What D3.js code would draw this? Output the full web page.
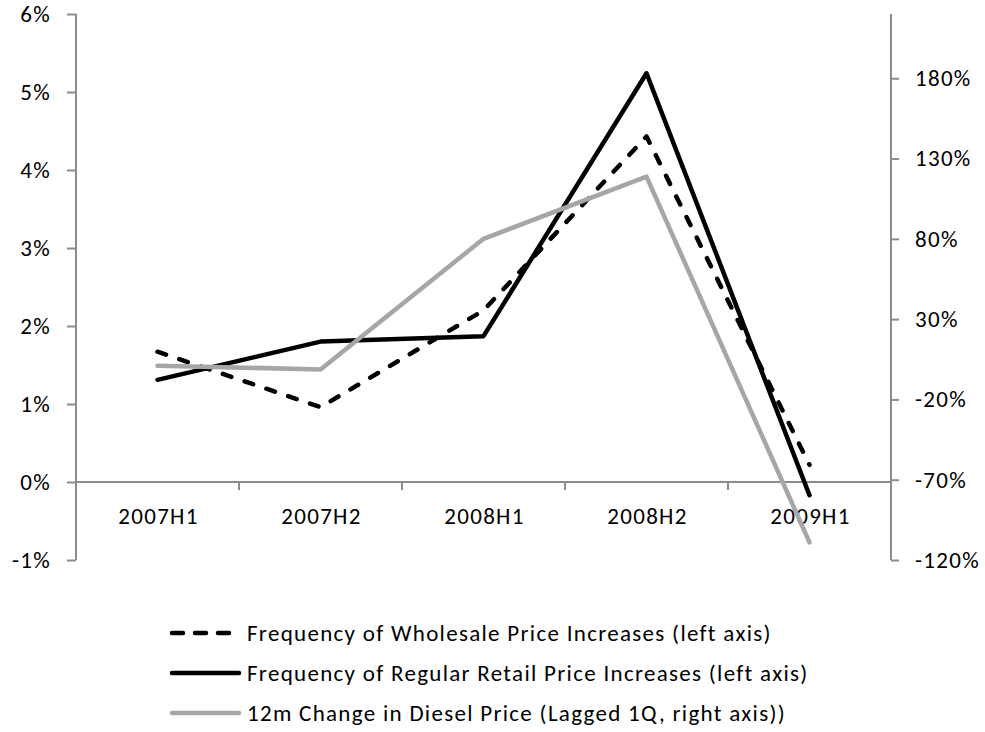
<!DOCTYPE html>
<html>
<head>
<meta charset="utf-8">
<script src="https://cdn.jsdelivr.net/npm/d3@7"></script>
<style>
  html, body { margin: 0; padding: 0; background: #fff; }
  svg { display: block; }
  text { font-family: Carlito, Calibri, Lato, "Open Sans", sans-serif; fill: #000; letter-spacing: 1.3px; }
</style>
</head>
<body>
<svg id="chart" width="985" height="732"></svg>
<script>
const categories = ["2007H1", "2007H2", "2008H1", "2008H2", "2009H1"];
const wholesale = [1.67, 0.96, 2.2, 4.43, 0.22];      // % (left axis)
const retail = [1.31, 1.80, 1.87, 5.24, -0.17];       // % (left axis)
const diesel = [1.0, -1.3, 80, 118.7, -109];           // % (right axis)
const leftTicks = [-1, 0, 1, 2, 3, 4, 5, 6];
const rightTicks = [-120, -70, -20, 30, 80, 130, 180];
const legendLabels = [
  "Frequency of Wholesale Price Increases (left axis)",
  "Frequency of Regular Retail Price Increases (left axis)",
  "12m Change in Diesel Price (Lagged 1Q, right axis))"
];

(function () {
const svg = d3.select("#chart");
const pLeft = 76, pRight = 891, pTop = 14, pBottom = 560;
const axisColor = "#8c8c8c";
const fontSize = 23;

const x = d3.scaleBand().domain(categories).range([pLeft, pRight]).padding(0);
const yL = d3.scaleLinear().domain([-1, 6]).range([pBottom, pTop]);
const yR = d3.scaleLinear().domain([-120, 220]).range([pBottom, pTop]);
const cx = d => x(d) + x.bandwidth() / 2;

const gL = svg.append("g").attr("transform", `translate(${pLeft},0)`)
  .call(d3.axisLeft(yL).tickValues(leftTicks).tickFormat(d => d + "%").tickSizeInner(9).tickSizeOuter(0).tickPadding(16));
const gR = svg.append("g").attr("transform", `translate(${pRight},0)`)
  .call(d3.axisRight(yR).tickValues(rightTicks).tickFormat(d => d + "%").tickSizeInner(8).tickSizeOuter(0).tickPadding(16));
[gL, gR].forEach(g => {
  g.attr("font-family", null).attr("font-size", null);
  g.select(".domain").attr("stroke", axisColor).attr("stroke-width", 2).attr("d", `M0,${pTop}V${pBottom}`);
  g.selectAll(".tick line").attr("stroke", axisColor).attr("stroke-width", 2);
  g.selectAll(".tick text").attr("font-size", fontSize);
});

const gX = svg.append("g").attr("transform", `translate(0,${yL(0)})`);
gX.append("line").attr("x1", pLeft).attr("x2", pRight).attr("y1", 0).attr("y2", 0)
  .attr("stroke", axisColor).attr("stroke-width", 2);
gX.selectAll(".xtick").data(categories.slice(1)).enter().append("line")
  .attr("x1", d => x(d)).attr("x2", d => x(d)).attr("y1", 0).attr("y2", 8)
  .attr("stroke", axisColor).attr("stroke-width", 2);
gX.selectAll(".xlab").data(categories).enter().append("text")
  .attr("x", d => cx(d) + 1).attr("y", 42).attr("text-anchor", "middle")
  .attr("font-size", fontSize).text(d => d);

const lineL = d3.line().x((d, i) => cx(categories[i])).y(d => yL(d));
const lineR = d3.line().x((d, i) => cx(categories[i])).y(d => yR(d));

svg.append("path").datum(wholesale).attr("d", lineL)
  .attr("fill", "none").attr("stroke", "#000").attr("stroke-width", 4.5)
  .attr("stroke-dasharray", "9,14").attr("stroke-linecap", "round").attr("stroke-linejoin", "round");
svg.append("path").datum(retail).attr("d", lineL)
  .attr("fill", "none").attr("stroke", "#000").attr("stroke-width", 4.5)
  .attr("stroke-linecap", "round").attr("stroke-linejoin", "round");
svg.append("path").datum(diesel).attr("d", lineR)
  .attr("fill", "none").attr("stroke", "#a6a6a6").attr("stroke-width", 4.5)
  .attr("stroke-linecap", "round").attr("stroke-linejoin", "round");

const legendStyles = [
  { stroke: "#000", dash: "11,12" },
  { stroke: "#000", dash: null },
  { stroke: "#a6a6a6", dash: null }
];
const legendY = [633, 673, 713];
const lg = svg.append("g");
legendLabels.forEach((lab, i) => {
  lg.append("line").attr("x1", 172).attr("x2", 239).attr("y1", legendY[i]).attr("y2", legendY[i])
    .attr("stroke", legendStyles[i].stroke).attr("stroke-width", 4.5).attr("stroke-linecap", "round")
    .attr("stroke-dasharray", legendStyles[i].dash);
  lg.append("text").attr("x", 247).attr("y", legendY[i] + 8).attr("font-size", fontSize).text(lab);
});
})();
</script>
</body>
</html>
